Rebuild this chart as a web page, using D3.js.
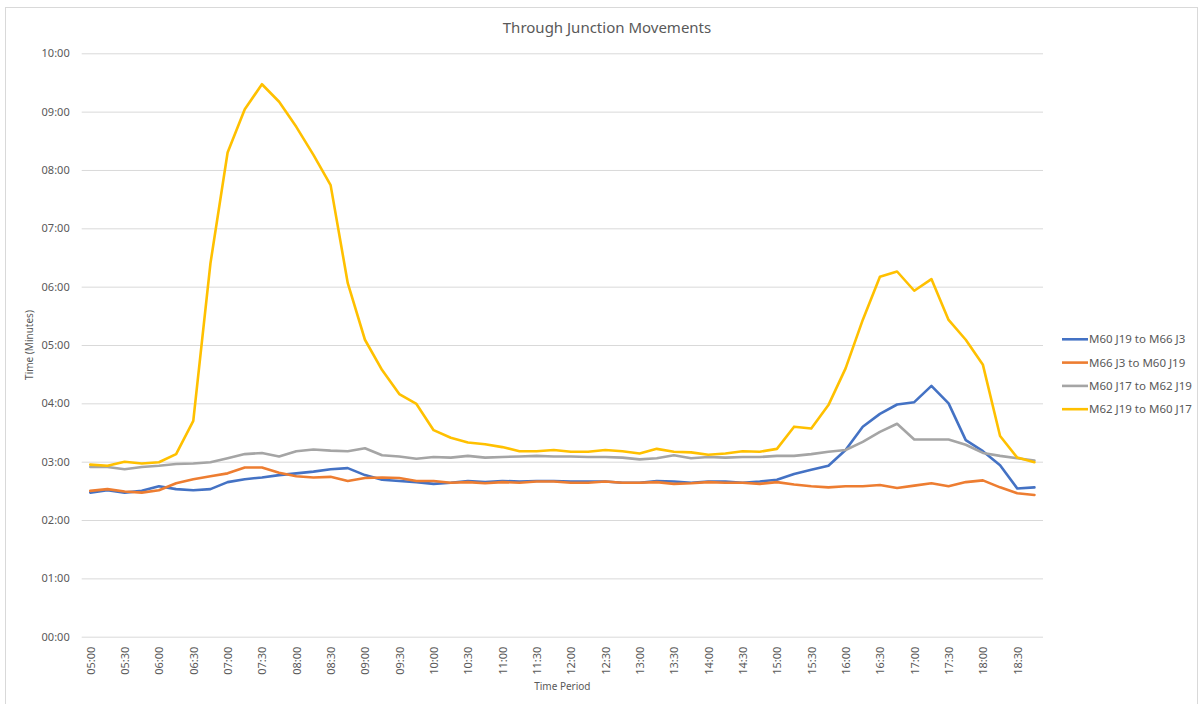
<!DOCTYPE html>
<html>
<head>
<meta charset="utf-8">
<script src="https://cdn.jsdelivr.net/npm/d3@7"></script>
<style>
  body { margin: 0; background: #fff; }
  text { font-family: "Noto Sans", "Open Sans", sans-serif; fill: #595959; }
</style>
</head>
<body>
<svg width="1203" height="704"></svg>
<script>
var width = 1203;
var height = 704;

// 15 minute periods, 05:00 to 18:45
var periods = ["05:00","05:15","05:30","05:45","06:00","06:15","06:30","06:45",
  "07:00","07:15","07:30","07:45","08:00","08:15","08:30","08:45",
  "09:00","09:15","09:30","09:45","10:00","10:15","10:30","10:45",
  "11:00","11:15","11:30","11:45","12:00","12:15","12:30","12:45",
  "13:00","13:15","13:30","13:45","14:00","14:15","14:30","14:45",
  "15:00","15:15","15:30","15:45","16:00","16:15","16:30","16:45",
  "17:00","17:15","17:30","17:45","18:00","18:15","18:30","18:45"];

// journey times in minutes
var m60j19ToM66j3 = [2.47,2.51,2.47,2.50,2.58,2.53,2.51,2.53,2.65,2.70,2.73,2.77,2.80,2.83,2.87,2.89,
  2.77,2.69,2.67,2.65,2.62,2.64,2.67,2.65,2.67,2.66,2.67,2.67,2.66,2.66,2.66,2.64,
  2.64,2.67,2.66,2.64,2.66,2.66,2.64,2.66,2.69,2.79,2.86,2.93,3.20,3.60,3.82,3.98,
  4.02,4.30,4.00,3.37,3.18,2.94,2.54,2.56];
var m66j3ToM60j19 = [2.50,2.53,2.49,2.47,2.51,2.63,2.70,2.75,2.80,2.90,2.90,2.81,2.75,2.73,2.74,2.67,
  2.72,2.73,2.72,2.67,2.67,2.64,2.65,2.63,2.65,2.64,2.66,2.66,2.64,2.64,2.66,2.64,
  2.64,2.65,2.62,2.63,2.65,2.64,2.64,2.62,2.65,2.61,2.58,2.56,2.58,2.58,2.60,2.55,
  2.59,2.63,2.58,2.65,2.68,2.56,2.46,2.43];
var m60j17ToM62j19 = [2.91,2.91,2.87,2.91,2.93,2.96,2.97,2.99,3.06,3.13,3.15,3.09,3.18,3.21,3.19,3.18,
  3.23,3.11,3.09,3.05,3.08,3.07,3.10,3.07,3.08,3.09,3.10,3.09,3.09,3.08,3.08,3.07,
  3.04,3.06,3.11,3.06,3.08,3.07,3.08,3.08,3.10,3.10,3.13,3.17,3.20,3.34,3.51,3.65,
  3.38,3.38,3.38,3.29,3.15,3.10,3.06,3.02];
var m62j19ToM60j17 = [2.95,2.93,3.00,2.97,2.99,3.13,3.70,6.40,8.30,9.04,9.47,9.17,8.74,8.26,7.74,6.06,
  5.09,4.57,4.16,3.99,3.54,3.41,3.33,3.30,3.25,3.18,3.18,3.20,3.17,3.17,3.20,3.18,
  3.14,3.22,3.17,3.16,3.12,3.14,3.18,3.17,3.22,3.60,3.57,3.97,4.60,5.43,6.17,6.26,
  5.93,6.13,5.43,5.09,4.66,3.44,3.07,2.99];

var seriesNames = ["M60 J19 to M66 J3", "M66 J3 to M60 J19", "M60 J17 to M62 J19", "M62 J19 to M60 J17"];
var seriesValues = [m60j19ToM66j3, m66j3ToM60j19, m60j17ToM62j19, m62j19ToM60j17];
var colors = ["#4472C4", "#ED7D31", "#A5A5A5", "#FFC000"];
var yTicks = [0,1,2,3,4,5,6,7,8,9,10];

var plot = {left: 81.7, right: 1043, top: 53.3, bottom: 636.7};

var svg = d3.select("svg");

// chart area border
svg.append("rect")
    .attr("x", 5.5).attr("y", 7.5)
    .attr("width", 1192).attr("height", 705)
    .attr("fill", "none")
    .attr("stroke", "#d9d9d9");

var x = d3.scalePoint()
    .domain(periods)
    .range([plot.left, plot.right])
    .padding(0.5);

var y = d3.scaleLinear()
    .domain([0, 10])
    .range([plot.bottom, plot.top]);

var fmt = d3.format("02d");

// gridlines + y labels
var yAxis = d3.axisLeft(y)
    .tickValues(yTicks)
    .tickSize(-(plot.right - plot.left))
    .tickPadding(12)
    .tickFormat(d => fmt(d) + ":00");

svg.append("g")
    .attr("transform", "translate(" + plot.left + ",0)")
    .call(yAxis)
    .call(g => g.select(".domain").remove())
    .call(g => g.selectAll("line").attr("stroke", "#d9d9d9").attr("stroke-width", 1))
    .call(g => g.selectAll("text").attr("font-size", "11px").attr("fill", "#595959"));

// x labels, every other period
var xAxis = d3.axisBottom(x)
    .tickValues(periods.filter((d, i) => i % 2 == 0))
    .tickSize(0)
    .tickPadding(0);

svg.append("g")
    .attr("transform", "translate(0," + plot.bottom + ")")
    .call(xAxis)
    .call(g => g.select(".domain").remove())
    .call(g => g.selectAll("text")
        .attr("font-size", "11px")
        .attr("fill", "#595959")
        .attr("text-anchor", "end")
        .attr("transform", "rotate(-90)")
        .attr("x", -10)
        .attr("y", 0)
        .attr("dy", "0.35em"));

// lines
var line = d3.line()
    .x((d, i) => x(periods[i]))
    .y(d => y(d));

svg.append("g").selectAll("path")
    .data(seriesValues)
    .join("path")
    .attr("d", line)
    .attr("fill", "none")
    .attr("stroke", (d, i) => colors[i])
    .attr("stroke-width", 2.6)
    .attr("stroke-linejoin", "round")
    .attr("stroke-linecap", "round");

// titles
svg.append("text")
    .attr("x", 607).attr("y", 33)
    .attr("text-anchor", "middle")
    .attr("font-size", "15px")
    .text("Through Junction Movements");

svg.append("text")
    .attr("x", (plot.left + plot.right) / 2).attr("y", 690)
    .attr("text-anchor", "middle")
    .attr("font-size", "10px")
    .text("Time Period");

svg.append("text")
    .attr("transform", "translate(33," + ((plot.top + plot.bottom) / 2) + ") rotate(-90)")
    .attr("text-anchor", "middle")
    .attr("font-size", "10px")
    .text("Time (Minutes)");

// legend
var legend = svg.append("g").selectAll("g")
    .data(seriesNames)
    .join("g")
    .attr("transform", (d, i) => "translate(1062," + (339.3 + i * 23.3) + ")");

legend.append("line")
    .attr("x1", 0).attr("x2", 26)
    .attr("stroke", (d, i) => colors[i])
    .attr("stroke-width", 2.6);

legend.append("text")
    .attr("x", 27)
    .attr("dy", "0.35em")
    .attr("font-size", "11.5px")
    .text(d => d);
</script>
</body>
</html>
